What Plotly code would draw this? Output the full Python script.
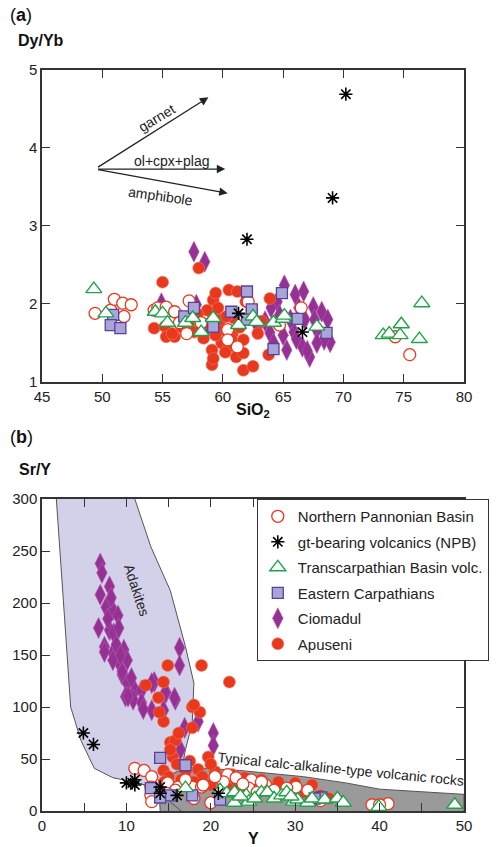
import plotly.graph_objects as go

# ---------------- panel (a): Dy/Yb vs SiO2 ----------------
npb_sio2 = [49.4, 50.7, 51.0, 51.7, 52.4, 51.8, 54.3, 54.6, 55.3, 56.0, 57.2, 56.4, 58.2, 57.0,
            60.4, 60.4, 61.2, 62.1, 64.7, 66.5, 74.3, 75.5]
npb_dyyb = [1.88, 1.92, 2.06, 2.01, 1.99, 1.84, 1.92, 1.95, 1.96, 1.90, 2.04, 1.76, 1.76, 1.62,
            1.67, 1.54, 1.45, 2.03, 1.73, 1.95, 1.58, 1.35]

apu_sio2 = [55.0, 58.0, 54.3, 55.2, 55.3, 56.0, 57.2, 57.6, 58.4, 58.7, 59.2, 59.4, 59.1, 59.1,
            59.2, 59.9, 60.5, 61.2, 60.0, 60.5, 61.1, 59.8, 60.9, 63.9, 61.7, 61.7, 61.7, 62.5,
            63.8, 62.4, 61.9, 60.3, 60.8, 59.6, 58.9, 56.4, 55.8, 60.2, 61.4, 62.9, 63.2, 57.9,
            56.6, 60.7, 59.4]
apu_dyyb = [2.28, 2.46, 1.69, 1.71, 1.58, 1.58, 1.73, 1.64, 1.56, 1.92, 2.05, 2.14, 1.41, 1.22,
            1.30, 1.50, 2.18, 2.16, 1.67, 1.45, 1.32, 1.80, 1.82, 2.07, 1.54, 1.37, 1.15, 1.20,
            1.35, 1.92, 2.03, 1.84, 1.62, 1.95, 1.75, 1.85, 1.62, 1.38, 1.70, 1.62, 1.78, 1.87,
            1.70, 1.55, 1.60]

cio_sio2 = [57.6, 58.5, 54.9, 57.8, 59.6, 65.1, 66.0, 66.7, 64.5, 67.5, 68.2, 68.9, 67.2, 65.3,
            66.6, 63.9, 62.9, 65.9, 67.8, 68.4, 67.8, 65.6, 66.8, 67.6, 64.7, 64.0, 66.3, 63.5,
            65.0, 68.7, 66.1, 64.2, 67.0, 58.8]
cio_dyyb = [2.67, 2.54, 2.01, 1.99, 1.82, 2.24, 2.12, 2.16, 2.03, 1.96, 1.90, 1.51, 1.32, 1.41,
            1.45, 1.63, 1.71, 1.64, 1.67, 1.54, 1.50, 1.80, 1.80, 1.80, 1.86, 1.95, 1.95, 1.78,
            1.60, 1.80, 1.55, 1.50, 1.40, 1.72]

ec_sio2 = [50.9, 50.7, 51.5, 56.8, 57.6, 59.2, 60.7, 62.0, 64.9, 62.4, 66.2, 68.6, 64.2, 62.0]
ec_dyyb = [1.86, 1.73, 1.69, 1.84, 1.95, 1.71, 1.90, 2.16, 2.14, 1.93, 1.81, 1.63, 1.42, 1.80]

tcb_sio2 = [49.3, 50.3, 54.4, 55.0, 55.4, 56.9, 57.5, 58.2, 59.2, 61.3, 62.5, 62.8, 64.2, 65.0,
            65.1, 67.8, 73.3, 73.8, 74.7, 74.8, 76.5, 76.3]
tcb_dyyb = [2.19, 1.88, 1.90, 1.88, 1.76, 1.76, 1.82, 1.64, 1.82, 1.73, 1.84, 1.77, 1.76, 1.81,
            1.85, 1.71, 1.60, 1.62, 1.60, 1.74, 2.01, 1.55]

gt_sio2 = [70.2, 69.1, 62.0, 66.6, 61.3]
gt_dyyb = [4.69, 3.36, 2.83, 1.64, 1.88]

# fractionation vectors: common origin and end points
vec_origin = (49.4, 3.73)
vec_ends = {"garnet": (58.8, 4.65), "ol+cpx+plag": (60.2, 3.73), "amphibole": (60.4, 3.42)}

# ---------------- panel (b): Sr/Y vs Y ----------------
npb_y = [11.0, 12.1, 13.0, 12.9, 12.9, 13.0, 14.9, 16.1, 17.8, 18.9, 20.0, 22.0, 23.0, 24.8,
         26.5, 30.1, 39.1, 41.0, 40.0, 28.1, 15.8, 24.5, 19.1, 21.5, 27.5, 25.5, 33.0, 18.0,
         14.8, 17.0, 20.5, 23.8, 26.0, 29.0, 31.5]
npb_sry = [41, 39, 33, 23, 15, 9, 27, 23, 23, 23, 8, 35, 32, 30,
           25, 23, 6, 7, 6, 17, 20, 22, 25, 28, 20, 18, 10, 12,
           17, 30, 33, 26, 28, 22, 20]

gt_y = [4.9, 6.1, 10.0, 11.0, 11.0, 10.7, 14.0, 16.0, 20.9, 14.0]
gt_sry = [75, 64, 27, 30, 25, 27, 17, 15, 17, 23]

tcb_y = [17.0, 21.1, 21.9, 22.8, 22.8, 24.2, 24.5, 26.0, 26.7, 27.5, 28.4, 29.0, 29.8, 30.3,
         31.5, 32.0, 33.5, 35.0, 35.7, 39.9, 48.9, 23.5, 25.2, 29.5]
tcb_sry = [22, 20, 17, 18, 8, 15, 9, 18, 18, 12, 15, 18, 9, 11,
           8, 12, 11, 12, 8, 4, 6, 14, 12, 14]

ec_y = [14.0, 17.0, 12.9, 15.2, 17.8, 21.1, 33.1, 32.3, 14.0]
ec_sry = [51, 44, 22, 15, 15, 11, 13, 12, 13]

cio_y = [6.9, 7.1, 6.9, 8.0, 6.7, 7.6, 8.4, 9.0, 7.4, 8.0, 8.5, 9.1, 9.7, 8.4, 9.1, 10.1, 9.5,
         10.1, 11.0, 9.9, 16.3, 16.3, 13.3, 14.7, 15.8, 11.8, 10.8, 7.4, 8.4, 9.5, 10.2, 11.8,
         13.0, 13.0, 14.4, 14.6, 15.7, 16.9, 18.5, 20.3, 20.3, 16.4, 7.8, 8.8, 9.3, 8.2, 12.0, 10.6]
cio_sry = [238, 229, 208, 216, 176, 196, 193, 188, 158, 174, 171, 176, 155, 152, 143, 145, 131,
           123, 116, 110, 157, 140, 124, 114, 107, 116, 107, 153, 145, 134, 110, 104,
           97, 123, 97, 114, 109, 80, 86, 75, 63, 59, 185, 160, 150, 205, 98, 128]

apu_y = [14.9, 18.9, 22.2, 14.4, 12.3, 13.8, 14.4, 17.8, 18.7, 17.8, 15.2, 15.8, 15.5, 19.7,
         14.4, 18.0, 15.2, 16.0, 17.0, 18.5, 20.5, 22.5, 24.0, 26.0, 28.0, 30.0, 32.0, 15.0,
         16.5, 19.0, 21.0, 23.0, 25.0, 27.0, 29.0, 31.0, 33.0, 34.0, 14.5, 18.0, 20.0, 22.0,
         17.5, 16.2, 13.9, 20.0]
apu_sry = [140, 140, 124, 124, 121, 109, 86, 100, 95, 80, 66, 68, 52, 52,
           39, 102, 59, 45, 38, 40, 38, 35, 32, 30, 28, 27, 25, 33,
           30, 33, 30, 28, 25, 22, 20, 18, 15, 12, 28, 28, 25, 22,
           48, 75, 95, 45]

# field outlines
adakite_y = [1.7, 2.9, 3.4, 4.6, 6.2, 8.4, 11.4, 13.3, 15.0, 16.5, 18.0, 16.6, 17.0, 17.8,
             18.0, 17.0, 15.2, 12.9, 11.0]
adakite_sry = [300, 164, 100, 68, 41, 32, 27, 22, 10, 0, 0, 42, 59, 85,
               123, 158, 212, 254, 300]
calc_y = [14.0, 13.8, 17.2, 23.4, 31.0, 36.0, 40.0, 50.0, 50.0]
calc_sry = [0, 30, 42, 39, 33, 27, 21, 16, 0]

FONT = "Arial, 'Liberation Sans', sans-serif"
RED = "#e8391f"
PURPLE = "#953192"
SQ_FILL = "#a8a6d8"
SQ_LINE = "#5b3f99"
GREEN = "#20a24a"

styles = {
    "Northern Pannonian Basin": dict(symbol="circle", size=12, color="white",
                                     line=dict(color=RED, width=1.3)),
    "gt-bearing volcanics (NPB)": dict(symbol="asterisk-open", size=11, color="black",
                                       line=dict(color="black", width=1.6)),
    "Transcarpathian Basin volc.": dict(symbol="triangle-up", size=14, color="white",
                                        line=dict(color=GREEN, width=1.4)),
    "Eastern Carpathians": dict(symbol="square", size=11, color=SQ_FILL,
                                line=dict(color=SQ_LINE, width=1.3)),
    "Ciomadul": dict(symbol="diamond-tall", size=15, color=PURPLE,
                     line=dict(color="#b45cb0", width=0.6)),
    "Apuseni": dict(symbol="circle", size=12, color=RED,
                    line=dict(color="#f07a62", width=0.6)),
}
legend_order = ["Northern Pannonian Basin", "gt-bearing volcanics (NPB)",
                "Transcarpathian Basin volc.", "Eastern Carpathians", "Ciomadul", "Apuseni"]

fig = go.Figure()

# fields in panel (b)
fig.add_trace(go.Scatter(x=adakite_y, y=adakite_sry, xaxis="x2", yaxis="y2", mode="lines",
                         fill="toself", fillcolor="#d3d0e9", line=dict(color="#555", width=1),
                         showlegend=False, hoverinfo="skip"))
fig.add_trace(go.Scatter(x=calc_y, y=calc_sry, xaxis="x2", yaxis="y2", mode="lines",
                         fill="toself", fillcolor="#9a9a9a", line=dict(color="#555", width=1),
                         showlegend=False, hoverinfo="skip"))
# lower part of the adakite outline stays visible over the grey field
fig.add_trace(go.Scatter(x=adakite_y[6:10], y=adakite_sry[6:10], xaxis="x2", yaxis="y2",
                         mode="lines", line=dict(color="#555", width=1),
                         showlegend=False, hoverinfo="skip"))

# drawing order (bottom to top)
series = [
    ("Ciomadul", cio_sio2, cio_dyyb, cio_y, cio_sry),
    ("Apuseni", apu_sio2, apu_dyyb, apu_y, apu_sry),
    ("Northern Pannonian Basin", npb_sio2, npb_dyyb, npb_y, npb_sry),
    ("Eastern Carpathians", ec_sio2, ec_dyyb, ec_y, ec_sry),
    ("Transcarpathian Basin volc.", tcb_sio2, tcb_dyyb, tcb_y, tcb_sry),
    ("gt-bearing volcanics (NPB)", gt_sio2, gt_dyyb, gt_y, gt_sry),
]
for name, xa, ya, xb, yb in series:
    fig.add_trace(go.Scatter(x=xa, y=ya, xaxis="x", yaxis="y", mode="markers",
                             marker=styles[name], name=name, showlegend=False))
    fig.add_trace(go.Scatter(x=xb, y=yb, xaxis="x2", yaxis="y2", mode="markers",
                             marker=styles[name], name=name, legendgroup=name,
                             legendrank=legend_order.index(name) + 1))

axis_common = dict(showline=True, linecolor="#333", linewidth=1.5, mirror="ticks",
                   ticks="inside", ticklen=8, tickwidth=1.3, tickcolor="#333",
                   showgrid=False, zeroline=False,
                   tickfont=dict(family=FONT, size=15, color="#222"))

fig.update_layout(
    width=501, height=847,
    margin=dict(l=42, r=13, t=70, b=36),
    paper_bgcolor="white", plot_bgcolor="white",
    font=dict(family=FONT, color="#222"),
    xaxis=dict(domain=[0, 1], range=[45, 80], dtick=5, anchor="y", **axis_common),
    yaxis=dict(domain=[0.579, 1], range=[1, 5], dtick=1, anchor="x", **axis_common),
    xaxis2=dict(domain=[0, 1], range=[0, 50], tickvals=list(range(0, 51, 5)),
                ticktext=[str(v) if v % 10 == 0 else "" for v in range(0, 51, 5)],
                anchor="y2", **axis_common),
    yaxis2=dict(domain=[0, 0.421], range=[0, 300], dtick=50, anchor="x2", **axis_common),
    legend=dict(x=0.509, y=0.421, xanchor="left", yanchor="top", bgcolor="white",
                bordercolor="#333", borderwidth=1, traceorder="grouped", tracegroupgap=3,
                font=dict(family=FONT, size=15, color="#222"), itemwidth=30),
    showlegend=True,
)

# fractionation vectors
for lbl, (xe, ye) in vec_ends.items():
    fig.add_annotation(x=xe, y=ye, ax=vec_origin[0], ay=vec_origin[1], xref="x", yref="y",
                       axref="x", ayref="y", showarrow=True, arrowhead=2, arrowsize=1.3,
                       arrowwidth=1.3, arrowcolor="#222", text=" ")
fig.add_annotation(x=54.5, y=4.38, xref="x", yref="y", text="garnet", showarrow=False,
                   textangle=-31, font=dict(family=FONT, size=14, color="#222"))
fig.add_annotation(x=55.8, y=3.83, xref="x", yref="y", text="ol+cpx+plag", showarrow=False,
                   font=dict(family=FONT, size=14, color="#222"))
fig.add_annotation(x=54.8, y=3.38, xref="x", yref="y", text="amphibole", showarrow=False,
                   textangle=8, font=dict(family=FONT, size=14, color="#222"))

# field labels
fig.add_annotation(x=11.3, y=212, xref="x2", yref="y2", text="Adakites", showarrow=False,
                   textangle=72, font=dict(family=FONT, size=14, color="#222"))
fig.add_annotation(x=35.4, y=40, xref="x2", yref="y2",
                   text="Typical calc-alkaline-type volcanic rocks", showarrow=False,
                   textangle=5.5, font=dict(family=FONT, size=14, color="#222"))


def px_paper(px, py):
    return (px - 42) / 446, (811 - py) / 741


def label(px, py, text, size, anchor="left"):
    xp, yp = px_paper(px, py)
    fig.add_annotation(x=xp, y=yp, xref="paper", yref="paper", text=text, showarrow=False,
                       xanchor=anchor, yanchor="middle",
                       font=dict(family=FONT, size=size, color="#111"))


label(6, 15, "(<b>a</b>)", 18)
label(14, 41, "<b>Dy/Yb</b>", 16)
label(265, 410, "<b>SiO<sub>2</sub></b>", 16, "center")
label(6, 437, "(<b>b</b>)", 18)
label(16, 469, "<b>Sr/Y</b>", 16)
label(265, 838, "<b>Y</b>", 16, "center")

fig.write_html("out.html")
